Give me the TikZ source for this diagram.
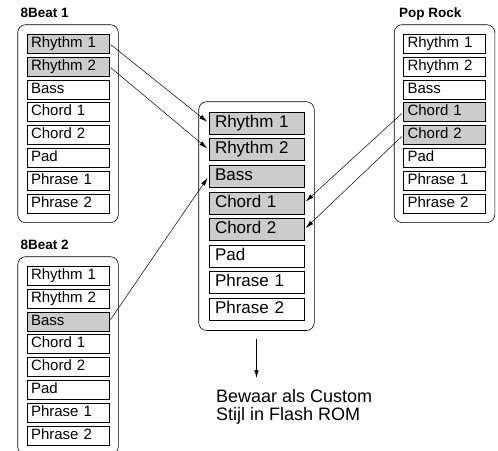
\documentclass[tikz,border=0pt]{standalone}
\usepackage{fontspec}
\setmainfont{Liberation Sans}
\usetikzlibrary{positioning,fit,arrows.meta}

\begin{document}
\begin{tikzpicture}[x=1pt, y=-1pt, node distance=3.3pt,
  part/.style={draw, line width=0.6pt, minimum height=19pt, minimum width=82pt, text width=74pt, inner xsep=4pt, inner ysep=0pt, align=left, text height=10.6pt, text depth=3.2pt, font=\fontsize{15}{17}\selectfont},
  bigpart/.style={part, minimum height=22pt, minimum width=95pt, text width=83pt, inner xsep=6pt, text height=12pt, text depth=3.6pt, font=\fontsize{17}{19}\selectfont},
  used/.style={fill=black!20},
  stylebox/.style={draw, rounded corners=8pt, line width=0.6pt, inner sep=9pt},
  title/.style={font=\fontsize{13.5}{15}\selectfont\bfseries, inner sep=0pt, anchor=base west},
  arr/.style={-{Latex[length=8pt,width=4.5pt]}, line width=0.5pt, shorten <=2pt, shorten >=2pt}]
  \useasboundingbox (0,0) rectangle (498,450);

  % 8Beat 1
  \node[part, used] (a1) at (68,43.5) {Rhythm 1};
  \node[part, used] (a2) [below=of a1] {Rhythm 2};
  \node[part] (a3) [below=of a2] {Bass};
  \node[part] (a4) [below=of a3] {Chord 1};
  \node[part] (a5) [below=of a4] {Chord 2};
  \node[part] (a6) [below=of a5] {Pad};
  \node[part] (a7) [below=of a6] {Phrase 1};
  \node[part] (a8) [below=of a7] {Phrase 2};
  \node[stylebox, fit=(a1)(a8)] (ga) {};
  \node[title] (ta) at ([xshift=3pt, yshift=7pt]ga.north west) {8Beat 1};

  % 8Beat 2
  \node[part] (b1) at (68,275.5) {Rhythm 1};
  \node[part] (b2) [below=of b1] {Rhythm 2};
  \node[part, used] (b3) [below=of b2] {Bass};
  \node[part] (b4) [below=of b3] {Chord 1};
  \node[part] (b5) [below=of b4] {Chord 2};
  \node[part] (b6) [below=of b5] {Pad};
  \node[part] (b7) [below=of b6] {Phrase 1};
  \node[part] (b8) [below=of b7] {Phrase 2};
  \node[stylebox, fit=(b1)(b8)] (gb) {};
  \node[title] (tb) at ([xshift=3pt, yshift=7pt]gb.north west) {8Beat 2};

  % Pop Rock
  \node[part] (p1) at (444.5,43.5) {Rhythm 1};
  \node[part] (p2) [below=of p1] {Rhythm 2};
  \node[part] (p3) [below=of p2] {Bass};
  \node[part, used] (p4) [below=of p3] {Chord 1};
  \node[part, used] (p5) [below=of p4] {Chord 2};
  \node[part] (p6) [below=of p5] {Pad};
  \node[part] (p7) [below=of p6] {Phrase 1};
  \node[part] (p8) [below=of p7] {Phrase 2};
  \node[stylebox, fit=(p1)(p8)] (gp) {};
  \node[title] (tp) at ([xshift=5pt, yshift=7pt]gp.north west) {Pop Rock};

  % new style
  \node[bigpart, used] (c1) at (256.5,123) {Rhythm 1};
  \node[bigpart, used] (c2) [below=4pt of c1] {Rhythm 2};
  \node[bigpart, used] (c3) [below=4pt of c2] {Bass};
  \node[bigpart, used] (c4) [below=4pt of c3] {Chord 1};
  \node[bigpart, used] (c5) [below=4pt of c4] {Chord 2};
  \node[bigpart] (c6) [below=4pt of c5] {Pad};
  \node[bigpart] (c7) [below=4pt of c6] {Phrase 1};
  \node[bigpart] (c8) [below=4pt of c7] {Phrase 2};
  \node[stylebox, inner sep=10pt, fit=(c1)(c8)] (gc) {};

  \node[font=\fontsize{18}{18.5}\selectfont, align=left, anchor=north west, inner sep=0pt] (save) at (216,389) {Bewaar als Custom\\Stijl in Flash ROM};
  \coordinate (savetip) at (256.5,378);

  \draw[arr] (a1.east) -- (c1.west);
  \draw[arr] (a2.east) -- (c2.west);
  \draw[arr] (b3.east) -- (c3.west);
  \draw[arr] (p4.west) -- (c4.east);
  \draw[arr] (p5.west) -- (c5.east);
  \draw[arr, shorten <=8pt, shorten >=0pt] (gc.south) -- (savetip);
\end{tikzpicture}
\end{document}
